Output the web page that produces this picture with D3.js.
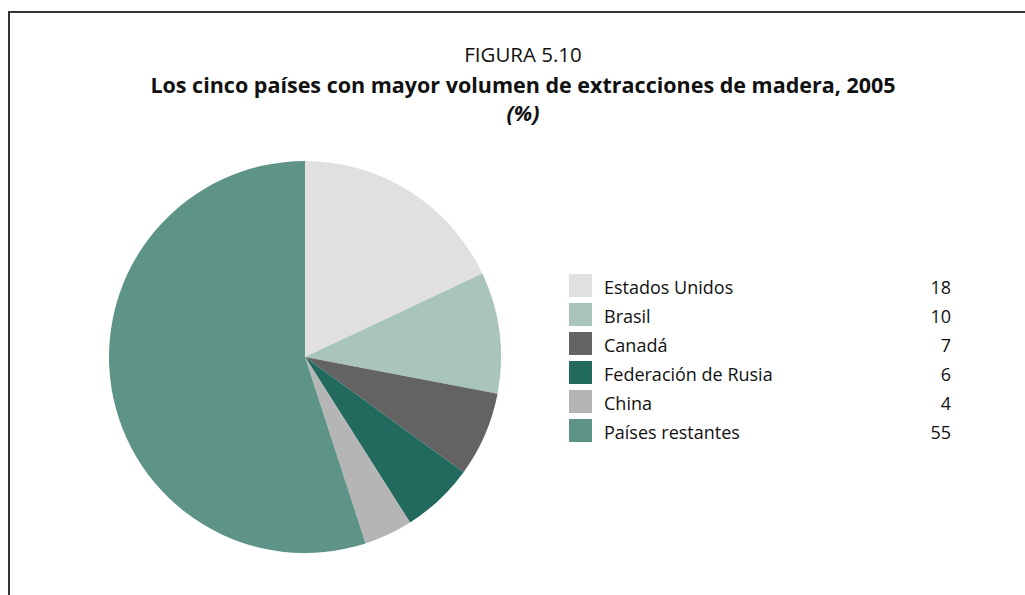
<!DOCTYPE html>
<html>
<head>
<meta charset="utf-8">
<script src="https://cdn.jsdelivr.net/npm/d3@7"></script>
<style>
  body { margin: 0; background: #fff; }
  svg { display: block; font-family: "Open Sans", "Noto Sans", sans-serif; }
</style>
</head>
<body>
<svg id="chart" width="1025" height="595"></svg>
<script>
// data
const countries = ["Estados Unidos", "Brasil", "Canadá", "Federación de Rusia", "China", "Países restantes"];
const shares = [18, 10, 7, 6, 4, 55];
const sliceColors = ["#e0e0e0", "#a8c4bd", "#636363", "#226a5e", "#b5b5b5", "#5e9488"];

const svg = d3.select("#chart");

// frame (top and left edges only)
svg.append("path")
    .attr("d", "M9,595 L9,12 L1025,12")
    .attr("fill", "none")
    .attr("stroke", "#333")
    .attr("stroke-width", 2);

// titles
svg.append("text")
    .attr("x", 523).attr("y", 62)
    .attr("text-anchor", "middle")
    .style("font-size", "20.5px")
    .attr("fill", "#111")
    .text("FIGURA 5.10");

svg.append("text")
    .attr("x", 523).attr("y", 93)
    .attr("text-anchor", "middle")
    .style("font-size", "21.5px")
    .style("font-weight", "bold")
    .attr("fill", "#111")
    .text("Los cinco países con mayor volumen de extracciones de madera, 2005");

svg.append("text")
    .attr("x", 523).attr("y", 121)
    .attr("text-anchor", "middle")
    .style("font-size", "21.5px")
    .style("font-weight", "bold")
    .style("font-style", "italic")
    .attr("fill", "#111")
    .text("(%)");

const data = countries.map((c, i) => ({ country: c, value: shares[i] }));
const color = d3.scaleOrdinal().domain(countries).range(sliceColors);

const pie = d3.pie().sort(null).value(d => d.value);
const arc = d3.arc().innerRadius(0).outerRadius(196);

svg.append("g")
    .attr("transform", "translate(305,357)")
    .selectAll(".slice")
    .data(pie(data))
    .enter().append("path")
    .attr("class", "slice")
    .attr("d", arc)
    .attr("fill", d => color(d.data.country));

// legend
const legendY = d3.scaleBand().domain(countries).range([274, 274 + 29 * countries.length]);

const legend = svg.append("g").attr("class", "legend");
const rows = legend.selectAll(".row")
    .data(data)
    .enter().append("g")
    .attr("class", "row")
    .attr("transform", d => `translate(0,${legendY(d.country)})`);

rows.append("rect")
    .attr("x", 569).attr("y", 0)
    .attr("width", 23).attr("height", 23)
    .attr("fill", d => color(d.country));

rows.append("text")
    .attr("x", 604).attr("y", 20)
    .style("font-size", "18px")
    .attr("fill", "#111")
    .text(d => d.country);

rows.append("text")
    .attr("x", 951).attr("y", 20)
    .attr("text-anchor", "end")
    .style("font-size", "18px")
    .attr("fill", "#111")
    .text(d => d.value);
</script>
</body>
</html>
